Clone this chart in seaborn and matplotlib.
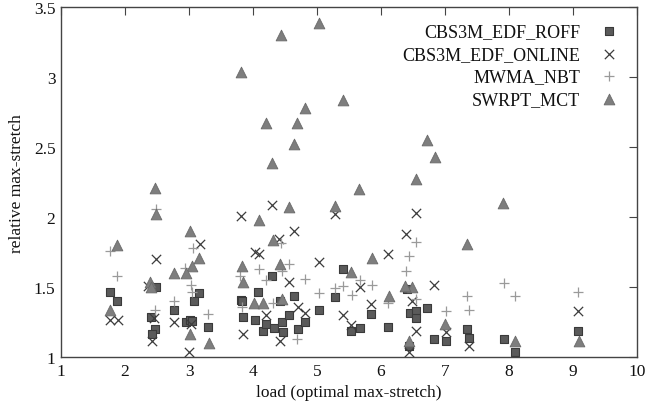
import matplotlib
matplotlib.use("Agg")
import matplotlib.pyplot as plt
import seaborn as sns
import pandas as pd

# ---- data ----
roff_x = [1.77, 1.875, 2.48, 2.40, 2.47, 2.42, 2.77, 2.95, 3.02, 3.05, 3.16, 3.08, 3.30,
          3.81, 3.83, 3.85, 4.03, 4.08, 4.15, 4.21, 4.30, 4.33, 4.42, 4.45, 4.47, 4.57,
          4.64, 4.70, 4.81, 5.03, 5.28, 5.40, 5.53, 5.67, 5.85, 6.11, 6.40, 6.45, 6.55,
          6.55, 6.72, 6.83, 7.01, 6.44, 7.35, 7.38, 7.92, 8.09, 9.08]
roff_y = [1.47, 1.40, 1.50, 1.29, 1.20, 1.17, 1.34, 1.25, 1.27, 1.26, 1.46, 1.40, 1.22,
          1.41, 1.40, 1.29, 1.27, 1.47, 1.19, 1.24, 1.58, 1.21, 1.40, 1.25, 1.18, 1.30,
          1.44, 1.20, 1.25, 1.34, 1.43, 1.63, 1.19, 1.21, 1.31, 1.22, 1.49, 1.32, 1.33,
          1.28, 1.35, 1.13, 1.12, 1.08, 1.20, 1.14, 1.13, 1.04, 1.19]

online_x = [1.77, 1.89, 2.36, 2.45, 2.48, 2.42, 2.77, 3.00, 3.03, 3.17, 3.81, 3.85, 4.03,
            4.09, 4.21, 4.29, 4.41, 4.42, 4.57, 4.64, 4.70, 4.81, 5.03, 5.28, 5.40, 5.53,
            5.67, 5.85, 6.11, 6.39, 6.48, 6.54, 6.54, 6.44, 6.83, 7.01, 7.38, 9.08]
online_y = [1.27, 1.27, 1.51, 1.28, 1.70, 1.12, 1.25, 1.04, 1.24, 1.81, 2.01, 1.17, 1.75,
            1.74, 1.30, 2.09, 1.845, 1.12, 1.54, 1.90, 1.36, 1.32, 1.68, 2.02, 1.30, 1.23,
            1.50, 1.38, 1.74, 1.88, 1.40, 2.03, 1.19, 1.04, 1.52, 1.18, 1.08, 1.33]

mwma_x = [1.77, 1.875, 2.48, 2.47, 2.77, 2.94, 3.03, 3.05, 3.07, 3.30, 3.80, 3.83, 4.09,
          4.20, 4.31, 4.43, 4.46, 4.57, 4.69, 4.81, 5.03, 5.28, 5.41, 5.54, 5.67, 5.86,
          6.11, 6.39, 6.43, 6.55, 6.54, 7.01, 7.35, 7.38, 7.92, 8.09, 9.08]
mwma_y = [1.76, 1.58, 2.06, 1.34, 1.40, 1.64, 1.52, 1.47, 1.78, 1.31, 1.58, 1.36, 1.63,
          1.55, 1.385, 1.815, 1.62, 1.67, 1.13, 1.56, 1.46, 1.495, 1.51, 1.445, 1.55, 1.52,
          1.385, 1.62, 1.72, 1.82, 1.42, 1.33, 1.44, 1.34, 1.53, 1.44, 1.47]

swrpt_x = [5.03, 4.43, 3.81, 5.40, 4.81, 4.21, 4.68, 4.64, 4.30, 2.47, 5.66, 6.72, 6.84,
           6.55, 2.48, 1.88, 3.02, 3.16, 3.05, 2.77, 2.95, 2.39, 2.41, 1.77, 3.02, 3.31,
           3.83, 3.85, 4.09, 4.32, 4.56, 4.42, 4.02, 4.15, 4.46, 5.28, 5.53, 7.91, 7.35,
           5.86, 6.48, 6.38, 6.12, 7.00, 6.44, 8.10, 9.09]
swrpt_y = [3.39, 3.30, 3.04, 2.84, 2.78, 2.67, 2.67, 2.52, 2.39, 2.21, 2.20, 2.55, 2.43,
           2.27, 2.02, 1.80, 1.90, 1.71, 1.65, 1.60, 1.60, 1.54, 1.50, 1.34, 1.17, 1.10,
           1.65, 1.54, 1.98, 1.84, 2.07, 1.67, 1.39, 1.39, 1.42, 2.08, 1.61, 2.10, 1.81,
           1.71, 1.50, 1.51, 1.44, 1.24, 1.12, 1.12, 1.12]

x_ticks = [1, 2, 3, 4, 5, 6, 7, 8, 9, 10]
y_ticks = [1, 1.5, 2, 2.5, 3, 3.5]
y_tick_labels = ["1", "1.5", "2", "2.5", "3", "3.5"]

series = [
    ("CBS3M_EDF_ROFF", roff_x, roff_y),
    ("CBS3M_EDF_ONLINE", online_x, online_y),
    ("MWMA_NBT", mwma_x, mwma_y),
    ("SWRPT_MCT", swrpt_x, swrpt_y),
]

frames = [pd.DataFrame({"load": xs, "ratio": ys, "series": name}) for name, xs, ys in series]
df = pd.concat(frames, ignore_index=True)

sns.set_theme(style="white")
plt.rcParams["font.family"] = ["Liberation Serif", "DejaVu Serif"]

fig = plt.figure(figsize=(6.49, 4.10), dpi=100)
ax = fig.add_axes([0.094, 0.126, 0.8875, 0.854])

styles = {
    "CBS3M_EDF_ROFF": dict(marker="s", s=38, color="#5a5a5a", edgecolor="#3a3a3a", linewidth=0.8),
    "CBS3M_EDF_ONLINE": dict(marker="x", s=45, color="#3c3c3c", linewidth=0.9),
    "MWMA_NBT": dict(marker="+", s=60, color="#9a9a9a", linewidth=0.9),
    "SWRPT_MCT": dict(marker="^", s=60, color="#7e7e7e", edgecolor="#6a6a6a", linewidth=0.6),
}

for name, _, _ in series:
    sub = df[df["series"] == name]
    sns.scatterplot(data=sub, x="load", y="ratio", ax=ax, label=name, **styles[name])

ax.set_xlim(1, 10)
ax.set_ylim(1, 3.5)
ax.set_xticks(x_ticks)
ax.set_xticklabels([str(t) for t in x_ticks])
ax.set_yticks(y_ticks)
ax.set_yticklabels(y_tick_labels)
ax.tick_params(axis="both", direction="in", length=6, width=0.8, color="#444444",
               top=True, right=True, labelsize=12.5, pad=4, labelcolor="#111111")
for sp in ax.spines.values():
    sp.set_color("#444444")
    sp.set_linewidth(1.0)
ax.set_xlabel("load (optimal max-stretch)", fontsize=12.5, color="#111111", labelpad=4)
ax.set_ylabel("relative max-stretch", fontsize=12.5, color="#111111", labelpad=6)

leg = ax.legend(loc="upper right", markerfirst=False, frameon=False, fontsize=13,
                handlelength=1.0, handletextpad=1.1, borderaxespad=0.0, borderpad=0.5,
                labelspacing=0.3, bbox_to_anchor=(0.983, 0.979))
for t in leg.get_texts():
    t.set_ha("right")
    t.set_color("#111111")
leg._legend_box.align = "right"
for vp in leg._legend_handle_box.get_children():
    for c in vp.get_children():
        c.align = "right"

fig.savefig("out.png", dpi=100)
